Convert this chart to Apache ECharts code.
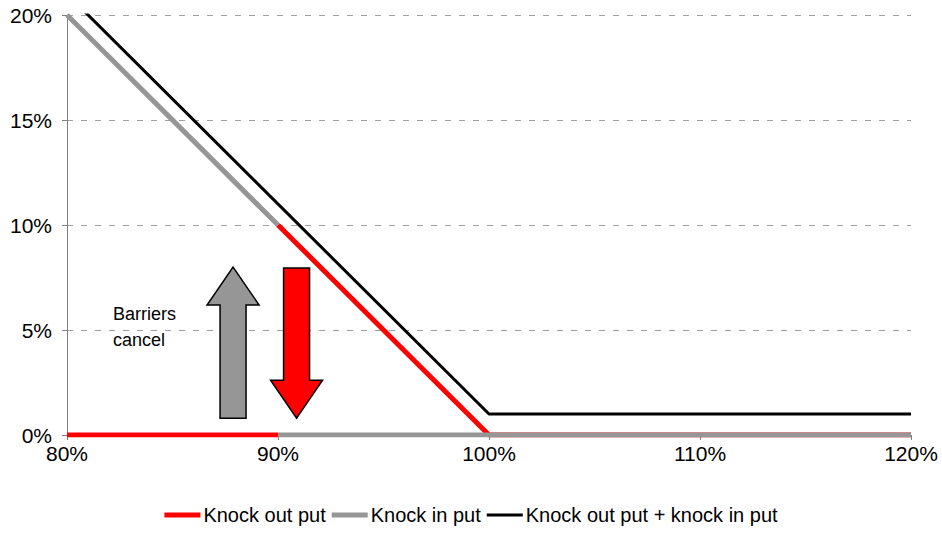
<!DOCTYPE html>
<html>
<head>
<meta charset="utf-8">
<script src="https://cdn.jsdelivr.net/npm/echarts@6/dist/echarts.min.js"></script>
<style>
  html, body { margin: 0; padding: 0; background: #fff; }
  #chart { width: 942px; height: 542px; }
</style>
</head>
<body>
<div id="chart"></div>
<script>
// spot level (% of initial) and payoff (%)
var knockOutLow = [[80, 0], [90, 0]];
var knockOutHigh = [[90, 10], [100, 0], [120, 0]];
var knockInHigh = [[80, 20], [90, 10]];
var knockInLow = [[90, 0], [120, 0]];
var combined = [[80, 21], [100, 1], [120, 1]];

// annotation arrows: [x centre, y start, y end] in axis units
var upArrow = [87.87, 0.8, 8.0];
var downArrow = [90.88, 7.95, 0.8];

var chart = echarts.init(document.getElementById('chart'), null, { renderer: 'svg' });
var font = 'Liberation Sans, Arial, sans-serif';
var red = '#ff0000', grey = '#969696', black = '#000000';

chart.setOption({
  animation: false,
  grid: { left: 67, right: 31, top: 15, bottom: 107 },
  legend: {
    top: 500,
    left: 'center',
    itemWidth: 36,
    itemHeight: 5,
    itemGap: 6,
    textStyle: { fontFamily: font, fontSize: 20, color: '#000', padding: [0, 0, 0, -2] },
    data: [
      { name: 'Knock out put', icon: 'rect' },
      { name: 'Knock in put', icon: 'rect' },
      { name: 'Knock out put + knock in put', icon: 'path://M0,0h36v3h-36z' }
    ]
  },
  xAxis: {
    type: 'value',
    min: 80, max: 120, interval: 10,
    axisLine: { lineStyle: { color: '#808080' } },
    axisTick: { show: true, length: 5, lineStyle: { color: '#808080' } },
    axisLabel: { formatter: '{value}%', fontFamily: font, fontSize: 21, color: '#000', margin: 8 },
    splitLine: { show: false }
  },
  yAxis: {
    type: 'value',
    min: 0, max: 20, interval: 5,
    axisLine: { show: true, lineStyle: { color: '#808080' } },
    axisTick: { show: true, length: 5, lineStyle: { color: '#808080' } },
    axisLabel: { formatter: '{value}%', fontFamily: font, fontSize: 21, color: '#000', margin: 15 },
    splitLine: { lineStyle: { color: '#a0a0a0', type: [6, 8] } }
  },
  series: [
    { name: 'Knock out put', type: 'line', data: knockOutLow, symbol: 'none',
      lineStyle: { color: red, width: 5 }, itemStyle: { color: red } },
    { name: 'Knock out put', type: 'line', data: knockOutHigh, symbol: 'none',
      lineStyle: { color: red, width: 5 }, itemStyle: { color: red } },
    { name: 'Knock in put', type: 'line', data: knockInHigh, symbol: 'none',
      lineStyle: { color: grey, width: 5 }, itemStyle: { color: grey } },
    { name: 'Knock in put', type: 'line', data: knockInLow, symbol: 'none',
      lineStyle: { color: grey, width: 5 }, itemStyle: { color: grey } },
    { name: 'Knock out put + knock in put', type: 'line', data: combined, symbol: 'none',
      lineStyle: { color: black, width: 3 }, itemStyle: { color: black } }
  ]
});

// arrows drawn in axis coordinates
function arrow(spec, fill) {
  var a = chart.convertToPixel({ gridIndex: 0 }, [spec[0], spec[1]]);
  var b = chart.convertToPixel({ gridIndex: 0 }, [spec[0], spec[2]]);
  var cx = a[0], y0 = a[1], y1 = b[1];
  var dir = y1 < y0 ? 1 : -1; // 1 = pointing up
  var shaft = 13, head = 26, headLen = 38;
  var neck = y1 + dir * headLen;
  return {
    type: 'polygon',
    shape: { points: [
      [cx - shaft, y0], [cx - shaft, neck], [cx - head, neck], [cx, y1],
      [cx + head, neck], [cx + shaft, neck], [cx + shaft, y0]
    ] },
    style: { fill: fill, stroke: '#000', lineWidth: 1.5 },
    z: 10
  };
}

chart.setOption({
  graphic: [
    arrow(upArrow, grey),
    arrow(downArrow, red),
    {
      type: 'text', left: 113, top: 301, z: 10,
      style: { text: 'Barriers\ncancel', fontFamily: font, fontSize: 18, lineHeight: 26, fill: '#000' }
    }
  ]
});
</script>
</body>
</html>
